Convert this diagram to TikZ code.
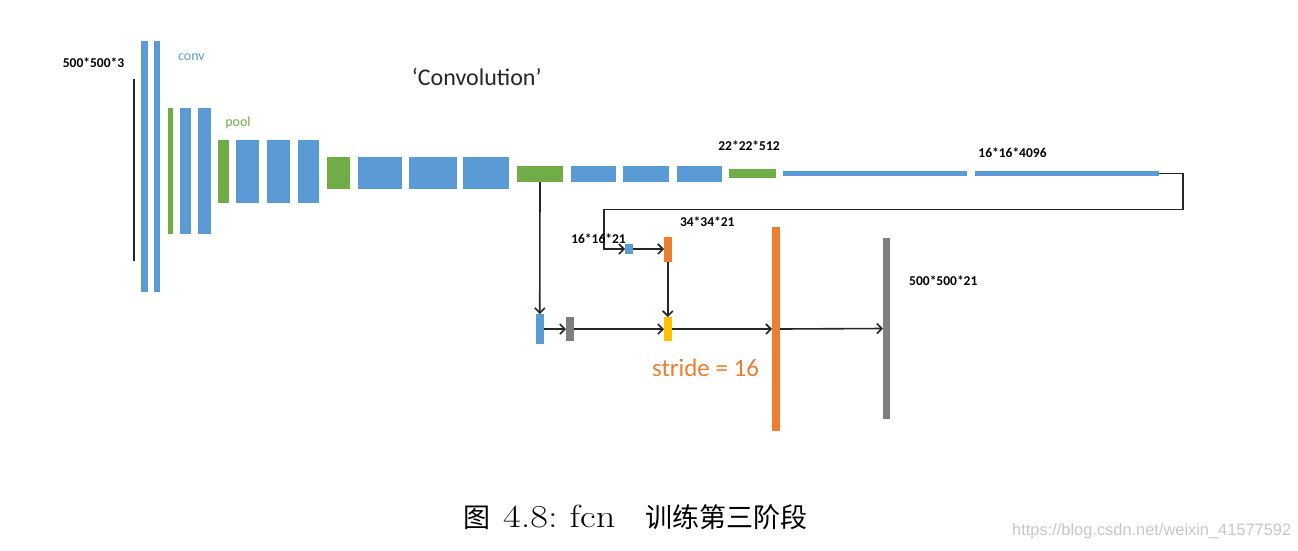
\documentclass[tikz,border=0pt]{standalone}
\usepackage{fontspec}
\usepackage{graphicx}
\newfontfamily\carlitofont{Carlito}
\newfontfamily\cjkfont{Noto Sans CJK SC}
\newfontfamily\libsansfont{Liberation Sans}
\usetikzlibrary{arrows.meta}
\definecolor{cblue}{HTML}{5B9BD5}
\definecolor{cgreen}{HTML}{70AD47}
\definecolor{corange}{HTML}{ED7D31}
\definecolor{cgray}{HTML}{7F7F7F}
\definecolor{cyellow}{HTML}{FFC000}
\definecolor{cdark}{HTML}{262626}
\newcommand\barnode[6]{\node[barbox, fill=#2, minimum width={(#5-#3)*1pt}, minimum height={(#6-#4)*1pt}, anchor=north west] (#1) at (#3,#4) {};}
\tikzset{
  barbox/.style={draw=none, inner sep=0pt, outer sep=0pt},
  conn/.style={-{Straight Barb[length=5pt,width=10pt,line width=1.6pt]}, line width=1.6pt, draw=cdark},
  dimlabel/.style={inner sep=0pt, text=black, font=\carlitofont\bfseries\fontsize{13.5}{13.5}\selectfont},
  layerlabel/.style={inner sep=0pt, font=\carlitofont\fontsize{14}{14}\selectfont},
}
\begin{document}
\begin{tikzpicture}[x=1pt, y=-1pt]
\useasboundingbox (0,0) rectangle (1298,550);
% input line
\barnode{inp}{cdark}{133}{79}{135}{261}
% conv block 1
\barnode{c1}{cblue}{141}{41}{148}{292}
\barnode{c2}{cblue}{154}{41}{160}{292}
\barnode{p1}{cgreen}{168}{108}{173}{234}
\barnode{c3}{cblue}{180}{108}{191}{234}
\barnode{c4}{cblue}{198}{108}{211}{234}
\barnode{p2}{cgreen}{218}{140}{229}{203}
\barnode{c5}{cblue}{236}{140}{259}{203}
\barnode{c6}{cblue}{267}{140}{290}{203}
\barnode{c7}{cblue}{298}{140}{319}{203}
\barnode{p3}{cgreen}{327}{157}{350}{189}
\barnode{c8}{cblue}{358}{157}{402}{189}
\barnode{c9}{cblue}{409}{157}{457}{189}
\barnode{c10}{cblue}{463}{157}{509}{189}
\barnode{p4}{cgreen}{517}{166}{563}{182}
\barnode{c11}{cblue}{571}{166}{616}{182}
\barnode{c12}{cblue}{623}{166}{669}{182}
\barnode{c13}{cblue}{677}{166}{722}{182}
\barnode{p5}{cgreen}{729}{169}{776}{178}
\barnode{f6}{cblue}{783}{171}{967}{176}
\barnode{f7}{cblue}{975}{171}{1159}{176}
% lower part
\barnode{s1}{cblue}{625}{244}{633}{254}
\barnode{up1}{corange}{664}{236.5}{671.5}{261.5}
\barnode{sum}{cyellow}{664}{317}{671.5}{341}
\barnode{pb}{cblue}{536}{314}{543.5}{344}
\barnode{pg}{cgray}{566}{317}{574}{341}
\barnode{up2}{corange}{772}{227}{780}{431}
\barnode{out}{cgray}{883}{238}{890}{419}
% connectors
\draw[conn] (f7.east) -| (1183,209.5) -| (604,249) -- (s1.west);
\draw[conn] (s1.east) -- (up1.west);
\draw[conn] (up1.south) -- (sum.north);
\draw[conn] (p4.south) -- (pb.north);
\draw[conn] (pb.east) -- (pg.west);
\draw[conn] (pg.east) -- (sum.west);
\draw[conn] (sum.east) -- (up2.west);
\draw[conn] (up2.east) -- (out.west);
% labels
\node[dimlabel] (l1) at (93.5,63) {500*500*3};
\node[layerlabel, text=cblue] (lconv) at (191.5,57) {conv};
\node[layerlabel, text=cgreen] (lpool) at (238,123) {pool};
\node[inner sep=0pt, text=cdark, font=\carlitofont\fontsize{24}{24}\selectfont] (title) at (476.7,77) {‘Convolution’};
\node[dimlabel] (l2) at (749,146) {22*22*512};
\node[dimlabel] (l3) at (1012.5,152.7) {16*16*4096};
\node[dimlabel] (l4) at (598.5,239) {16*16*21};
\node[dimlabel] (l5) at (707.3,222) {34*34*21};
\node[dimlabel] (l6) at (943.3,281) {500*500*21};
\node[inner sep=0pt, text=corange, font=\carlitofont\fontsize{25}{25}\selectfont] (stride) at (705.5,368) {stride = 16};
% caption
\node[inner sep=0pt, anchor=west, text=black] (cap) at (463,517) {{\cjkfont\fontsize{27}{27}\selectfont 图}\hspace{13pt}\scalebox{1.2}[1]{\fontsize{32}{32}\selectfont 4.8:\hspace{10pt}fcn}\hspace{30pt}{\cjkfont\fontsize{27}{27}\selectfont 训练第三阶段}};
\node[inner sep=0pt, anchor=west, text=black!22] (wm) at (1012,531) {\libsansfont\fontsize{16.4}{16.4}\selectfont https://blog.csdn.net/weixin\_41577592};
\end{tikzpicture}
\end{document}
